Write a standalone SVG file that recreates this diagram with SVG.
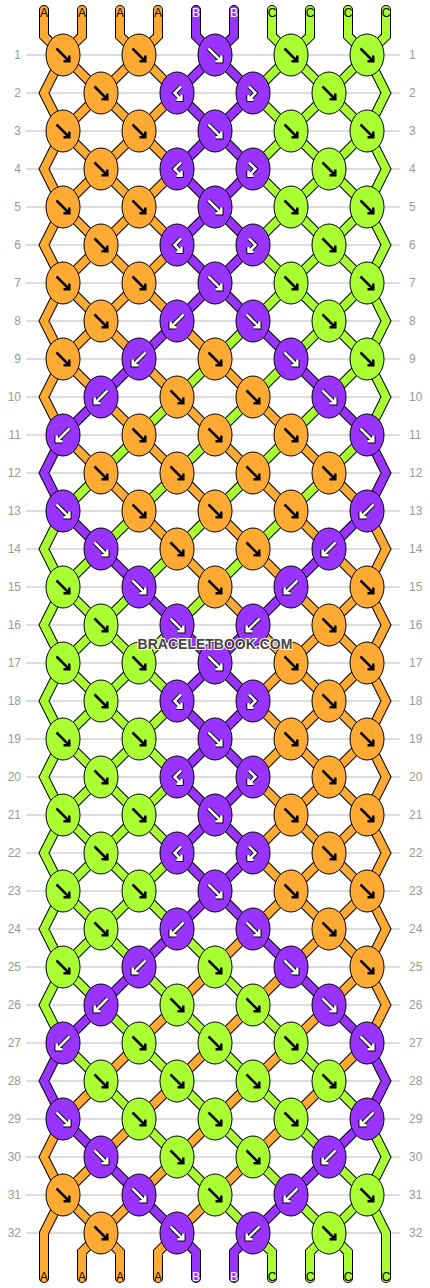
<svg xmlns="http://www.w3.org/2000/svg" xmlns:xlink="http://www.w3.org/1999/xlink" width="430" height="1288" viewBox="0 0 430 1288">
<style>
.ol{fill:none;stroke:#000;stroke-width:10;stroke-linecap:round;stroke-linejoin:miter}
.sa{fill:none;stroke:#ffaa33;stroke-width:8;stroke-linecap:round;stroke-linejoin:miter}
.sb{fill:none;stroke:#9933ff;stroke-width:8;stroke-linecap:round;stroke-linejoin:miter}
.sc{fill:none;stroke:#aaff33;stroke-width:8;stroke-linecap:round;stroke-linejoin:miter}
.O{fill:#ffaa33;stroke:#000;stroke-width:1}
.P{fill:#9933ff;stroke:#000;stroke-width:1}
.G{fill:#aaff33;stroke:#000;stroke-width:1}
.bk{fill:none;stroke:#000;stroke-width:2.5}
.wo{fill:none;stroke:#000;stroke-width:4.5}
.wt{fill:none;stroke:#fff;stroke-width:2.5}
.grid{fill:none;stroke:#bbb;stroke-width:1}
.rn{font-family:"Liberation Sans",Arial,sans-serif;font-size:12px;fill:#999}
.tl{font-family:"Liberation Sans",Arial,sans-serif;font-size:12px;text-anchor:middle;fill:#000}
.wm{font-family:"Liberation Sans",Arial,sans-serif;font-size:14px;font-weight:bold;text-anchor:middle;fill:#444;stroke:#fff;stroke-width:2;paint-order:stroke}
</style>
<defs>
<path id="af" d="M-6.5,-6.5L5,5M0.5,6.3H6.3V0.5"/>
<path id="ab" d="M6.5,-6.5L-5,5M-0.5,6.3H-6.3V0.5"/>
<path id="abf" d="M4,-6.5L-2.5,0L3.5,6M-0.5,6.8H4.5V1.8"/>
<path id="afb" d="M-4,-6.5L2.5,0L-3.5,6M0.5,6.8H-4.5V1.8"/>
<g id="kF"><use href="#af" class="bk"/></g>
<g id="wF"><use href="#af" class="wo"/><use href="#af" class="wt"/></g>
<g id="wB"><use href="#ab" class="wo"/><use href="#ab" class="wt"/></g>
<g id="wBF"><use href="#abf" class="wo"/><use href="#abf" class="wt"/></g>
<g id="wFB"><use href="#afb" class="wo"/><use href="#afb" class="wt"/></g>
<path id="pA" d="M44,10V36L63,55M82,10V36L63,55M120,10V36L139,55M158,10V36L139,55
M63,55l38,38M139,55l-38,38M139,55l38,38
M101,93l-38,38M101,93l38,38M177,93l-38,38
M63,131l38,38M139,131l-38,38M139,131l38,38
M101,169l-38,38M101,169l38,38M177,169l-38,38
M63,207l38,38M139,207l-38,38M139,207l38,38
M101,245l-38,38M101,245l38,38M177,245l-38,38
M63,283l38,38M139,283l-38,38M139,283l38,38
M101,321l-38,38M101,321l38,38M177,321l38,38
M63,359l38,38M139,359l38,38M215,359l38,38
M101,397l38,38M177,397l38,38M253,397l38,38
M63,435l38,38M139,435l38,38M215,435l38,38M291,435l38,38
M101,473l38,38M177,473l38,38M253,473l38,38M329,473l38,38
M139,511l38,38M215,511l38,38M291,511l38,38
M177,549l38,38M253,549l38,38M329,549l38,38
M215,587l38,38M291,587l38,38M367,587l-38,38
M253,625l38,38M329,625l-38,38M329,625l38,38
M291,663l-38,38M291,663l38,38M367,663l-38,38
M253,701l38,38M329,701l-38,38M329,701l38,38
M291,739l-38,38M291,739l38,38M367,739l-38,38
M253,777l38,38M329,777l-38,38M329,777l38,38
M291,815l-38,38M291,815l38,38M367,815l-38,38
M253,853l38,38M329,853l-38,38M329,853l38,38
M291,891l-38,38M291,891l38,38M367,891l-38,38
M253,929l-38,38M329,929l-38,38M329,929l38,38
M215,967l-38,38M291,967l-38,38M367,967l-38,38
M177,1005l-38,38M253,1005l-38,38M329,1005l-38,38
M139,1043l-38,38M215,1043l-38,38M291,1043l-38,38M367,1043l-38,38
M101,1081l-38,38M177,1081l-38,38M253,1081l-38,38M329,1081l-38,38
M139,1119l-38,38M215,1119l-38,38M291,1119l-38,38
M101,1157l-38,38M177,1157l-38,38M253,1157l-38,38
M63,1195l38,38M139,1195l-38,38M215,1195l-38,38
M101,1233L82,1252V1278M101,1233L120,1252V1278M177,1233L158,1252V1278
M63,55l-19,38l19,38M63,131l-19,38l19,38M63,207l-19,38l19,38M63,283l-19,38l19,38M63,359l-19,38l19,38M63,1119l-19,38l19,38M63,1195l-19,38V1278
M367,511l19,38l-19,38M367,587l19,38l-19,38M367,663l19,38l-19,38M367,739l19,38l-19,38M367,815l19,38l-19,38M367,891l19,38l-19,38M367,967l19,38l-19,38"/>
<path id="pB" d="M196,10V36L215,55M234,10V36L215,55
M215,55l-38,38M215,55l38,38
M177,93l38,38M253,93l-38,38
M215,131l-38,38M215,131l38,38
M177,169l38,38M253,169l-38,38
M215,207l-38,38M215,207l38,38
M177,245l38,38M253,245l-38,38
M215,283l-38,38M215,283l38,38
M177,321l-38,38M253,321l38,38
M139,359l-38,38M291,359l38,38
M101,397l-38,38M329,397l38,38
M63,511l38,38M367,511l-38,38
M101,549l38,38M329,549l-38,38
M139,587l38,38M291,587l-38,38
M177,625l38,38M253,625l-38,38
M215,663l-38,38M215,663l38,38
M177,701l38,38M253,701l-38,38
M215,739l-38,38M215,739l38,38
M177,777l38,38M253,777l-38,38
M215,815l-38,38M215,815l38,38
M177,853l38,38M253,853l-38,38
M215,891l-38,38M215,891l38,38
M177,929l-38,38M253,929l38,38
M139,967l-38,38M291,967l38,38
M101,1005l-38,38M329,1005l38,38
M63,1119l38,38M367,1119l-38,38
M101,1157l38,38M329,1157l-38,38
M139,1195l38,38M291,1195l-38,38
M177,1233L196,1252V1278M253,1233L234,1252V1278
M63,435l-19,38l19,38M63,1043l-19,38l19,38M367,435l19,38l-19,38M367,1043l19,38l-19,38"/>
<path id="pC" d="M272,10V36L291,55M310,10V36L291,55M348,10V36L367,55M386,10V36L367,55
M291,55l-38,38M291,55l38,38M367,55l-38,38
M253,93l38,38M329,93l-38,38M329,93l38,38
M291,131l-38,38M291,131l38,38M367,131l-38,38
M253,169l38,38M329,169l-38,38M329,169l38,38
M291,207l-38,38M291,207l38,38M367,207l-38,38
M253,245l38,38M329,245l-38,38M329,245l38,38
M291,283l-38,38M291,283l38,38M367,283l-38,38
M253,321l-38,38M329,321l-38,38M329,321l38,38
M215,359l-38,38M291,359l-38,38M367,359l-38,38
M177,397l-38,38M253,397l-38,38M329,397l-38,38
M139,435l-38,38M215,435l-38,38M291,435l-38,38M367,435l-38,38
M101,473l-38,38M177,473l-38,38M253,473l-38,38M329,473l-38,38
M139,511l-38,38M215,511l-38,38M291,511l-38,38
M101,549l-38,38M177,549l-38,38M253,549l-38,38
M63,587l38,38M139,587l-38,38M215,587l-38,38
M101,625l-38,38M101,625l38,38M177,625l-38,38
M63,663l38,38M139,663l-38,38M139,663l38,38
M101,701l-38,38M101,701l38,38M177,701l-38,38
M63,739l38,38M139,739l-38,38M139,739l38,38
M101,777l-38,38M101,777l38,38M177,777l-38,38
M63,815l38,38M139,815l-38,38M139,815l38,38
M101,853l-38,38M101,853l38,38M177,853l-38,38
M63,891l38,38M139,891l-38,38M139,891l38,38
M101,929l-38,38M101,929l38,38M177,929l38,38
M63,967l38,38M139,967l38,38M215,967l38,38
M101,1005l38,38M177,1005l38,38M253,1005l38,38
M63,1043l38,38M139,1043l38,38M215,1043l38,38M291,1043l38,38
M101,1081l38,38M177,1081l38,38M253,1081l38,38M329,1081l38,38
M139,1119l38,38M215,1119l38,38M291,1119l38,38
M177,1157l38,38M253,1157l38,38M329,1157l38,38
M215,1195l38,38M291,1195l38,38M367,1195l-38,38
M253,1233L272,1252V1278M329,1233L310,1252V1278M329,1233L348,1252V1278
M63,511l-19,38l19,38M63,587l-19,38l19,38M63,663l-19,38l19,38M63,739l-19,38l19,38M63,815l-19,38l19,38M63,891l-19,38l19,38M63,967l-19,38l19,38
M367,55l19,38l-19,38M367,131l19,38l-19,38M367,207l19,38l-19,38M367,283l19,38l-19,38M367,359l19,38l-19,38M367,1119l19,38l-19,38M367,1195l19,38V1278"/>
</defs>
<rect width="430" height="1288" fill="#fff"/>
<path class="grid" d="M26,55H400M26,93H400M26,131H400M26,169H400M26,207H400M26,245H400M26,283H400M26,321H400M26,359H400M26,397H400M26,435H400M26,473H400M26,511H400M26,549H400M26,587H400M26,625H400M26,663H400M26,701H400M26,739H400M26,777H400M26,815H400M26,853H400M26,891H400M26,929H400M26,967H400M26,1005H400M26,1043H400M26,1081H400M26,1119H400M26,1157H400M26,1195H400M26,1233H400"/>
<g class="rn" text-anchor="end">
<text x="21" y="59">1</text><text x="21" y="97">2</text><text x="21" y="135">3</text><text x="21" y="173">4</text><text x="21" y="211">5</text><text x="21" y="249">6</text><text x="21" y="287">7</text><text x="21" y="325">8</text><text x="21" y="363">9</text><text x="21" y="401">10</text><text x="21" y="439">11</text><text x="21" y="477">12</text><text x="21" y="515">13</text><text x="21" y="553">14</text><text x="21" y="591">15</text><text x="21" y="629">16</text><text x="21" y="667">17</text><text x="21" y="705">18</text><text x="21" y="743">19</text><text x="21" y="781">20</text><text x="21" y="819">21</text><text x="21" y="857">22</text><text x="21" y="895">23</text><text x="21" y="933">24</text><text x="21" y="971">25</text><text x="21" y="1009">26</text><text x="21" y="1047">27</text><text x="21" y="1085">28</text><text x="21" y="1123">29</text><text x="21" y="1161">30</text><text x="21" y="1199">31</text><text x="21" y="1237">32</text>
</g>
<g class="rn">
<text x="409" y="59">1</text><text x="409" y="97">2</text><text x="409" y="135">3</text><text x="409" y="173">4</text><text x="409" y="211">5</text><text x="409" y="249">6</text><text x="409" y="287">7</text><text x="409" y="325">8</text><text x="409" y="363">9</text><text x="409" y="401">10</text><text x="409" y="439">11</text><text x="409" y="477">12</text><text x="409" y="515">13</text><text x="409" y="553">14</text><text x="409" y="591">15</text><text x="409" y="629">16</text><text x="409" y="667">17</text><text x="409" y="705">18</text><text x="409" y="743">19</text><text x="409" y="781">20</text><text x="409" y="819">21</text><text x="409" y="857">22</text><text x="409" y="895">23</text><text x="409" y="933">24</text><text x="409" y="971">25</text><text x="409" y="1009">26</text><text x="409" y="1047">27</text><text x="409" y="1085">28</text><text x="409" y="1123">29</text><text x="409" y="1161">30</text><text x="409" y="1199">31</text><text x="409" y="1237">32</text>
</g>
<g id="connectors">
<use href="#pA" class="ol"/><use href="#pB" class="ol"/><use href="#pC" class="ol"/>
<use href="#pA" class="sa"/><use href="#pB" class="sb"/><use href="#pC" class="sc"/>
</g>
<g id="string-labels" class="tl">
<text x="44" y="17">A</text><text x="82" y="17">A</text><text x="120" y="17">A</text><text x="158" y="17">A</text><text x="196" y="17" fill="#fff">B</text><text x="234" y="17" fill="#fff">B</text><text x="272" y="17">C</text><text x="310" y="17">C</text><text x="348" y="17">C</text><text x="386" y="17">C</text>
<text x="44" y="1281">A</text><text x="82" y="1281">A</text><text x="120" y="1281">A</text><text x="158" y="1281">A</text><text x="196" y="1281" fill="#fff">B</text><text x="234" y="1281" fill="#fff">B</text><text x="272" y="1281">C</text><text x="310" y="1281">C</text><text x="348" y="1281">C</text><text x="386" y="1281">C</text>
</g>
<g id="knots">
<g id="k1_1" transform="translate(63,55)"><ellipse class="O" rx="17" ry="21"/><use href="#kF"/></g>
<g id="k1_2" transform="translate(139,55)"><ellipse class="O" rx="17" ry="21"/><use href="#kF"/></g>
<g id="k1_3" transform="translate(215,55)"><ellipse class="P" rx="17" ry="21"/><use href="#wF"/></g>
<g id="k1_4" transform="translate(291,55)"><ellipse class="G" rx="17" ry="21"/><use href="#kF"/></g>
<g id="k1_5" transform="translate(367,55)"><ellipse class="G" rx="17" ry="21"/><use href="#kF"/></g>
<g id="k2_1" transform="translate(101,93)"><ellipse class="O" rx="17" ry="21"/><use href="#kF"/></g>
<g id="k2_2" transform="translate(177,93)"><ellipse class="P" rx="17" ry="21"/><use href="#wBF"/></g>
<g id="k2_3" transform="translate(253,93)"><ellipse class="P" rx="17" ry="21"/><use href="#wFB"/></g>
<g id="k2_4" transform="translate(329,93)"><ellipse class="G" rx="17" ry="21"/><use href="#kF"/></g>
<g id="k3_1" transform="translate(63,131)"><ellipse class="O" rx="17" ry="21"/><use href="#kF"/></g>
<g id="k3_2" transform="translate(139,131)"><ellipse class="O" rx="17" ry="21"/><use href="#kF"/></g>
<g id="k3_3" transform="translate(215,131)"><ellipse class="P" rx="17" ry="21"/><use href="#wF"/></g>
<g id="k3_4" transform="translate(291,131)"><ellipse class="G" rx="17" ry="21"/><use href="#kF"/></g>
<g id="k3_5" transform="translate(367,131)"><ellipse class="G" rx="17" ry="21"/><use href="#kF"/></g>
<g id="k4_1" transform="translate(101,169)"><ellipse class="O" rx="17" ry="21"/><use href="#kF"/></g>
<g id="k4_2" transform="translate(177,169)"><ellipse class="P" rx="17" ry="21"/><use href="#wBF"/></g>
<g id="k4_3" transform="translate(253,169)"><ellipse class="P" rx="17" ry="21"/><use href="#wFB"/></g>
<g id="k4_4" transform="translate(329,169)"><ellipse class="G" rx="17" ry="21"/><use href="#kF"/></g>
<g id="k5_1" transform="translate(63,207)"><ellipse class="O" rx="17" ry="21"/><use href="#kF"/></g>
<g id="k5_2" transform="translate(139,207)"><ellipse class="O" rx="17" ry="21"/><use href="#kF"/></g>
<g id="k5_3" transform="translate(215,207)"><ellipse class="P" rx="17" ry="21"/><use href="#wF"/></g>
<g id="k5_4" transform="translate(291,207)"><ellipse class="G" rx="17" ry="21"/><use href="#kF"/></g>
<g id="k5_5" transform="translate(367,207)"><ellipse class="G" rx="17" ry="21"/><use href="#kF"/></g>
<g id="k6_1" transform="translate(101,245)"><ellipse class="O" rx="17" ry="21"/><use href="#kF"/></g>
<g id="k6_2" transform="translate(177,245)"><ellipse class="P" rx="17" ry="21"/><use href="#wBF"/></g>
<g id="k6_3" transform="translate(253,245)"><ellipse class="P" rx="17" ry="21"/><use href="#wFB"/></g>
<g id="k6_4" transform="translate(329,245)"><ellipse class="G" rx="17" ry="21"/><use href="#kF"/></g>
<g id="k7_1" transform="translate(63,283)"><ellipse class="O" rx="17" ry="21"/><use href="#kF"/></g>
<g id="k7_2" transform="translate(139,283)"><ellipse class="O" rx="17" ry="21"/><use href="#kF"/></g>
<g id="k7_3" transform="translate(215,283)"><ellipse class="P" rx="17" ry="21"/><use href="#wF"/></g>
<g id="k7_4" transform="translate(291,283)"><ellipse class="G" rx="17" ry="21"/><use href="#kF"/></g>
<g id="k7_5" transform="translate(367,283)"><ellipse class="G" rx="17" ry="21"/><use href="#kF"/></g>
<g id="k8_1" transform="translate(101,321)"><ellipse class="O" rx="17" ry="21"/><use href="#kF"/></g>
<g id="k8_2" transform="translate(177,321)"><ellipse class="P" rx="17" ry="21"/><use href="#wB"/></g>
<g id="k8_3" transform="translate(253,321)"><ellipse class="P" rx="17" ry="21"/><use href="#wF"/></g>
<g id="k8_4" transform="translate(329,321)"><ellipse class="G" rx="17" ry="21"/><use href="#kF"/></g>
<g id="k9_1" transform="translate(63,359)"><ellipse class="O" rx="17" ry="21"/><use href="#kF"/></g>
<g id="k9_2" transform="translate(139,359)"><ellipse class="P" rx="17" ry="21"/><use href="#wB"/></g>
<g id="k9_3" transform="translate(215,359)"><ellipse class="O" rx="17" ry="21"/><use href="#kF"/></g>
<g id="k9_4" transform="translate(291,359)"><ellipse class="P" rx="17" ry="21"/><use href="#wF"/></g>
<g id="k9_5" transform="translate(367,359)"><ellipse class="G" rx="17" ry="21"/><use href="#kF"/></g>
<g id="k10_1" transform="translate(101,397)"><ellipse class="P" rx="17" ry="21"/><use href="#wB"/></g>
<g id="k10_2" transform="translate(177,397)"><ellipse class="O" rx="17" ry="21"/><use href="#kF"/></g>
<g id="k10_3" transform="translate(253,397)"><ellipse class="O" rx="17" ry="21"/><use href="#kF"/></g>
<g id="k10_4" transform="translate(329,397)"><ellipse class="P" rx="17" ry="21"/><use href="#wF"/></g>
<g id="k11_1" transform="translate(63,435)"><ellipse class="P" rx="17" ry="21"/><use href="#wB"/></g>
<g id="k11_2" transform="translate(139,435)"><ellipse class="O" rx="17" ry="21"/><use href="#kF"/></g>
<g id="k11_3" transform="translate(215,435)"><ellipse class="O" rx="17" ry="21"/><use href="#kF"/></g>
<g id="k11_4" transform="translate(291,435)"><ellipse class="O" rx="17" ry="21"/><use href="#kF"/></g>
<g id="k11_5" transform="translate(367,435)"><ellipse class="P" rx="17" ry="21"/><use href="#wF"/></g>
<g id="k12_1" transform="translate(101,473)"><ellipse class="O" rx="17" ry="21"/><use href="#kF"/></g>
<g id="k12_2" transform="translate(177,473)"><ellipse class="O" rx="17" ry="21"/><use href="#kF"/></g>
<g id="k12_3" transform="translate(253,473)"><ellipse class="O" rx="17" ry="21"/><use href="#kF"/></g>
<g id="k12_4" transform="translate(329,473)"><ellipse class="O" rx="17" ry="21"/><use href="#kF"/></g>
<g id="k13_1" transform="translate(63,511)"><ellipse class="P" rx="17" ry="21"/><use href="#wF"/></g>
<g id="k13_2" transform="translate(139,511)"><ellipse class="O" rx="17" ry="21"/><use href="#kF"/></g>
<g id="k13_3" transform="translate(215,511)"><ellipse class="O" rx="17" ry="21"/><use href="#kF"/></g>
<g id="k13_4" transform="translate(291,511)"><ellipse class="O" rx="17" ry="21"/><use href="#kF"/></g>
<g id="k13_5" transform="translate(367,511)"><ellipse class="P" rx="17" ry="21"/><use href="#wB"/></g>
<g id="k14_1" transform="translate(101,549)"><ellipse class="P" rx="17" ry="21"/><use href="#wF"/></g>
<g id="k14_2" transform="translate(177,549)"><ellipse class="O" rx="17" ry="21"/><use href="#kF"/></g>
<g id="k14_3" transform="translate(253,549)"><ellipse class="O" rx="17" ry="21"/><use href="#kF"/></g>
<g id="k14_4" transform="translate(329,549)"><ellipse class="P" rx="17" ry="21"/><use href="#wB"/></g>
<g id="k15_1" transform="translate(63,587)"><ellipse class="G" rx="17" ry="21"/><use href="#kF"/></g>
<g id="k15_2" transform="translate(139,587)"><ellipse class="P" rx="17" ry="21"/><use href="#wF"/></g>
<g id="k15_3" transform="translate(215,587)"><ellipse class="O" rx="17" ry="21"/><use href="#kF"/></g>
<g id="k15_4" transform="translate(291,587)"><ellipse class="P" rx="17" ry="21"/><use href="#wB"/></g>
<g id="k15_5" transform="translate(367,587)"><ellipse class="O" rx="17" ry="21"/><use href="#kF"/></g>
<g id="k16_1" transform="translate(101,625)"><ellipse class="G" rx="17" ry="21"/><use href="#kF"/></g>
<g id="k16_2" transform="translate(177,625)"><ellipse class="P" rx="17" ry="21"/><use href="#wF"/></g>
<g id="k16_3" transform="translate(253,625)"><ellipse class="P" rx="17" ry="21"/><use href="#wB"/></g>
<g id="k16_4" transform="translate(329,625)"><ellipse class="O" rx="17" ry="21"/><use href="#kF"/></g>
<g id="k17_1" transform="translate(63,663)"><ellipse class="G" rx="17" ry="21"/><use href="#kF"/></g>
<g id="k17_2" transform="translate(139,663)"><ellipse class="G" rx="17" ry="21"/><use href="#kF"/></g>
<g id="k17_3" transform="translate(215,663)"><ellipse class="P" rx="17" ry="21"/><use href="#wF"/></g>
<g id="k17_4" transform="translate(291,663)"><ellipse class="O" rx="17" ry="21"/><use href="#kF"/></g>
<g id="k17_5" transform="translate(367,663)"><ellipse class="O" rx="17" ry="21"/><use href="#kF"/></g>
<g id="k18_1" transform="translate(101,701)"><ellipse class="G" rx="17" ry="21"/><use href="#kF"/></g>
<g id="k18_2" transform="translate(177,701)"><ellipse class="P" rx="17" ry="21"/><use href="#wBF"/></g>
<g id="k18_3" transform="translate(253,701)"><ellipse class="P" rx="17" ry="21"/><use href="#wFB"/></g>
<g id="k18_4" transform="translate(329,701)"><ellipse class="O" rx="17" ry="21"/><use href="#kF"/></g>
<g id="k19_1" transform="translate(63,739)"><ellipse class="G" rx="17" ry="21"/><use href="#kF"/></g>
<g id="k19_2" transform="translate(139,739)"><ellipse class="G" rx="17" ry="21"/><use href="#kF"/></g>
<g id="k19_3" transform="translate(215,739)"><ellipse class="P" rx="17" ry="21"/><use href="#wF"/></g>
<g id="k19_4" transform="translate(291,739)"><ellipse class="O" rx="17" ry="21"/><use href="#kF"/></g>
<g id="k19_5" transform="translate(367,739)"><ellipse class="O" rx="17" ry="21"/><use href="#kF"/></g>
<g id="k20_1" transform="translate(101,777)"><ellipse class="G" rx="17" ry="21"/><use href="#kF"/></g>
<g id="k20_2" transform="translate(177,777)"><ellipse class="P" rx="17" ry="21"/><use href="#wBF"/></g>
<g id="k20_3" transform="translate(253,777)"><ellipse class="P" rx="17" ry="21"/><use href="#wFB"/></g>
<g id="k20_4" transform="translate(329,777)"><ellipse class="O" rx="17" ry="21"/><use href="#kF"/></g>
<g id="k21_1" transform="translate(63,815)"><ellipse class="G" rx="17" ry="21"/><use href="#kF"/></g>
<g id="k21_2" transform="translate(139,815)"><ellipse class="G" rx="17" ry="21"/><use href="#kF"/></g>
<g id="k21_3" transform="translate(215,815)"><ellipse class="P" rx="17" ry="21"/><use href="#wF"/></g>
<g id="k21_4" transform="translate(291,815)"><ellipse class="O" rx="17" ry="21"/><use href="#kF"/></g>
<g id="k21_5" transform="translate(367,815)"><ellipse class="O" rx="17" ry="21"/><use href="#kF"/></g>
<g id="k22_1" transform="translate(101,853)"><ellipse class="G" rx="17" ry="21"/><use href="#kF"/></g>
<g id="k22_2" transform="translate(177,853)"><ellipse class="P" rx="17" ry="21"/><use href="#wBF"/></g>
<g id="k22_3" transform="translate(253,853)"><ellipse class="P" rx="17" ry="21"/><use href="#wFB"/></g>
<g id="k22_4" transform="translate(329,853)"><ellipse class="O" rx="17" ry="21"/><use href="#kF"/></g>
<g id="k23_1" transform="translate(63,891)"><ellipse class="G" rx="17" ry="21"/><use href="#kF"/></g>
<g id="k23_2" transform="translate(139,891)"><ellipse class="G" rx="17" ry="21"/><use href="#kF"/></g>
<g id="k23_3" transform="translate(215,891)"><ellipse class="P" rx="17" ry="21"/><use href="#wF"/></g>
<g id="k23_4" transform="translate(291,891)"><ellipse class="O" rx="17" ry="21"/><use href="#kF"/></g>
<g id="k23_5" transform="translate(367,891)"><ellipse class="O" rx="17" ry="21"/><use href="#kF"/></g>
<g id="k24_1" transform="translate(101,929)"><ellipse class="G" rx="17" ry="21"/><use href="#kF"/></g>
<g id="k24_2" transform="translate(177,929)"><ellipse class="P" rx="17" ry="21"/><use href="#wB"/></g>
<g id="k24_3" transform="translate(253,929)"><ellipse class="P" rx="17" ry="21"/><use href="#wF"/></g>
<g id="k24_4" transform="translate(329,929)"><ellipse class="O" rx="17" ry="21"/><use href="#kF"/></g>
<g id="k25_1" transform="translate(63,967)"><ellipse class="G" rx="17" ry="21"/><use href="#kF"/></g>
<g id="k25_2" transform="translate(139,967)"><ellipse class="P" rx="17" ry="21"/><use href="#wB"/></g>
<g id="k25_3" transform="translate(215,967)"><ellipse class="G" rx="17" ry="21"/><use href="#kF"/></g>
<g id="k25_4" transform="translate(291,967)"><ellipse class="P" rx="17" ry="21"/><use href="#wF"/></g>
<g id="k25_5" transform="translate(367,967)"><ellipse class="O" rx="17" ry="21"/><use href="#kF"/></g>
<g id="k26_1" transform="translate(101,1005)"><ellipse class="P" rx="17" ry="21"/><use href="#wB"/></g>
<g id="k26_2" transform="translate(177,1005)"><ellipse class="G" rx="17" ry="21"/><use href="#kF"/></g>
<g id="k26_3" transform="translate(253,1005)"><ellipse class="G" rx="17" ry="21"/><use href="#kF"/></g>
<g id="k26_4" transform="translate(329,1005)"><ellipse class="P" rx="17" ry="21"/><use href="#wF"/></g>
<g id="k27_1" transform="translate(63,1043)"><ellipse class="P" rx="17" ry="21"/><use href="#wB"/></g>
<g id="k27_2" transform="translate(139,1043)"><ellipse class="G" rx="17" ry="21"/><use href="#kF"/></g>
<g id="k27_3" transform="translate(215,1043)"><ellipse class="G" rx="17" ry="21"/><use href="#kF"/></g>
<g id="k27_4" transform="translate(291,1043)"><ellipse class="G" rx="17" ry="21"/><use href="#kF"/></g>
<g id="k27_5" transform="translate(367,1043)"><ellipse class="P" rx="17" ry="21"/><use href="#wF"/></g>
<g id="k28_1" transform="translate(101,1081)"><ellipse class="G" rx="17" ry="21"/><use href="#kF"/></g>
<g id="k28_2" transform="translate(177,1081)"><ellipse class="G" rx="17" ry="21"/><use href="#kF"/></g>
<g id="k28_3" transform="translate(253,1081)"><ellipse class="G" rx="17" ry="21"/><use href="#kF"/></g>
<g id="k28_4" transform="translate(329,1081)"><ellipse class="G" rx="17" ry="21"/><use href="#kF"/></g>
<g id="k29_1" transform="translate(63,1119)"><ellipse class="P" rx="17" ry="21"/><use href="#wF"/></g>
<g id="k29_2" transform="translate(139,1119)"><ellipse class="G" rx="17" ry="21"/><use href="#kF"/></g>
<g id="k29_3" transform="translate(215,1119)"><ellipse class="G" rx="17" ry="21"/><use href="#kF"/></g>
<g id="k29_4" transform="translate(291,1119)"><ellipse class="G" rx="17" ry="21"/><use href="#kF"/></g>
<g id="k29_5" transform="translate(367,1119)"><ellipse class="P" rx="17" ry="21"/><use href="#wB"/></g>
<g id="k30_1" transform="translate(101,1157)"><ellipse class="P" rx="17" ry="21"/><use href="#wF"/></g>
<g id="k30_2" transform="translate(177,1157)"><ellipse class="G" rx="17" ry="21"/><use href="#kF"/></g>
<g id="k30_3" transform="translate(253,1157)"><ellipse class="G" rx="17" ry="21"/><use href="#kF"/></g>
<g id="k30_4" transform="translate(329,1157)"><ellipse class="P" rx="17" ry="21"/><use href="#wB"/></g>
<g id="k31_1" transform="translate(63,1195)"><ellipse class="O" rx="17" ry="21"/><use href="#kF"/></g>
<g id="k31_2" transform="translate(139,1195)"><ellipse class="P" rx="17" ry="21"/><use href="#wF"/></g>
<g id="k31_3" transform="translate(215,1195)"><ellipse class="G" rx="17" ry="21"/><use href="#kF"/></g>
<g id="k31_4" transform="translate(291,1195)"><ellipse class="P" rx="17" ry="21"/><use href="#wB"/></g>
<g id="k31_5" transform="translate(367,1195)"><ellipse class="G" rx="17" ry="21"/><use href="#kF"/></g>
<g id="k32_1" transform="translate(101,1233)"><ellipse class="O" rx="17" ry="21"/><use href="#kF"/></g>
<g id="k32_2" transform="translate(177,1233)"><ellipse class="P" rx="17" ry="21"/><use href="#wF"/></g>
<g id="k32_3" transform="translate(253,1233)"><ellipse class="P" rx="17" ry="21"/><use href="#wB"/></g>
<g id="k32_4" transform="translate(329,1233)"><ellipse class="G" rx="17" ry="21"/><use href="#kF"/></g>
</g>
<text class="wm" x="215" y="649">BRACELETBOOK.COM</text>
</svg>
